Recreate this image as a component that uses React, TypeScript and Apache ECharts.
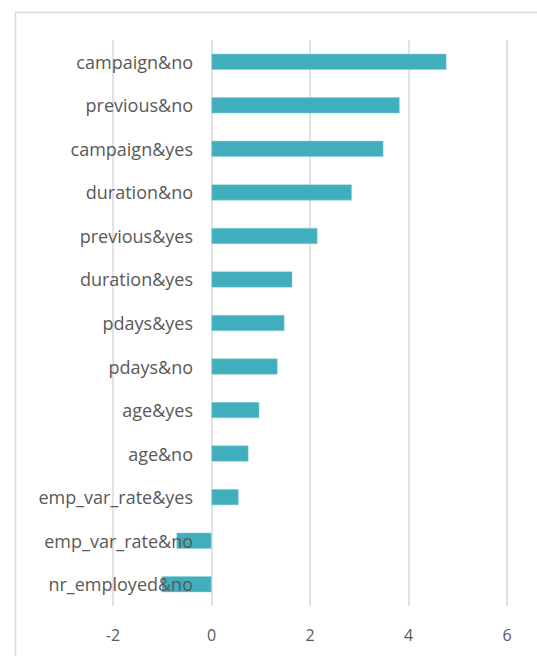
import React, { useEffect, useRef } from "react";
import * as echarts from "echarts";

const categories = [
  "campaign&no",
  "previous&no",
  "campaign&yes",
  "duration&no",
  "previous&yes",
  "duration&yes",
  "pdays&yes",
  "pdays&no",
  "age&yes",
  "age&no",
  "emp_var_rate&yes",
  "emp_var_rate&no",
  "nr_employed&no",
];
const values = [4.77, 3.82, 3.49, 2.85, 2.15, 1.64, 1.48, 1.34, 0.97, 0.75, 0.55, -0.71, -1.01];
const xTicks = { min: -2, max: 6, interval: 2 };

export default function App() {
  const ref = useRef<HTMLDivElement>(null);
  useEffect(() => {
    const chart = echarts.init(ref.current!, null, { renderer: "svg" });
    chart.setOption({
      animation: false,
      backgroundColor: "#ffffff",
      textStyle: { fontFamily: "Open Sans" },
      graphic: [
        {
          type: "rect",
          left: 13,
          top: 10,
          shape: { width: 560, height: 700 },
          style: { fill: "none", stroke: "#d9d9d9", lineWidth: 1.5 },
          silent: true,
          z: -1,
        },
      ],
      grid: { left: 113, right: 30, top: 40, bottom: 50, containLabel: false },
      xAxis: {
        type: "value",
        min: xTicks.min,
        max: xTicks.max,
        interval: xTicks.interval,
        axisLine: { show: false },
        axisTick: { show: false },
        splitLine: { show: true, lineStyle: { color: "#d9d9d9", width: 1.5 } },
        axisLabel: { color: "#595959", fontSize: 16, margin: 21, fontFamily: "Open Sans" },
      },
      yAxis: {
        type: "category",
        data: categories,
        inverse: true,
        axisLine: { show: false },
        axisTick: { show: false },
        axisLabel: {
          color: "#595959",
          fontSize: 18,
          margin: -80,
          fontFamily: "Open Sans",
        },
        z: 10,
      },
      series: [
        {
          type: "bar",
          data: values,
          barWidth: 16,
          itemStyle: { color: "#41aebd", borderColor: "#8fd0da", borderWidth: 0.5 },
          z: 2,
        },
      ],
    });
    return () => chart.dispose();
  }, []);
  return (
    <div
      ref={ref}
      style={{ position: "absolute", left: 0, top: 0, width: 537, height: 656 }}
    />
  );
}
